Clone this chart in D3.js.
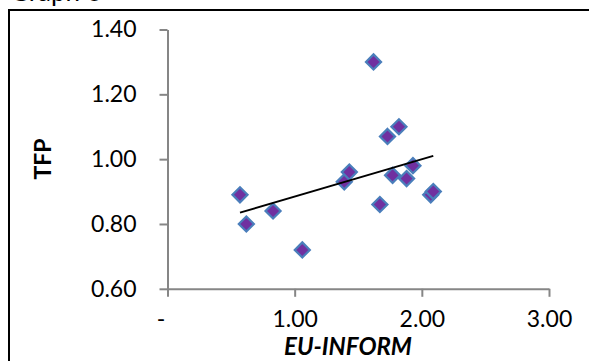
<!DOCTYPE html>
<html>
<head>
<meta charset="utf-8">
<script src="https://cdn.jsdelivr.net/npm/d3@7"></script>
<style>
  html, body { margin: 0; padding: 0; background: #fff; }
  svg { display: block; }
</style>
</head>
<body>
<svg id="chart" width="589" height="361"></svg>
<script>
// ---- data ----
const euInform = [0.57, 0.62, 0.83, 1.06, 1.39, 1.43, 1.62, 1.67, 1.73, 1.77, 1.82, 1.88, 1.93, 2.07, 2.09];
const tfp      = [0.89, 0.80, 0.84, 0.72, 0.93, 0.96, 1.30, 0.86, 1.07, 0.95, 1.10, 0.94, 0.98, 0.89, 0.90];
const xTicks = [0, 1, 2, 3];
const yTicks = [0.6, 0.8, 1.0, 1.2, 1.4];
const xTitle = "EU-INFORM";
const yTitle = "TFP";
const titleText = "Graph 6";

const svg = d3.select("#chart");
const W = 589, H = 361;
const FONT = "Lato, 'Open Sans', sans-serif";
const axisColor = "#868686";

// frame
svg.append("rect").attr("x", 9).attr("y", 10).attr("width", W).attr("height", H)
  .attr("fill", "#fff").attr("stroke", "#000").attr("stroke-width", 2);

// cut-off title at top (as in the reference)
svg.append("text").attr("x", 10).attr("y", 0.5).attr("font-family", FONT)
  .attr("font-size", 26).attr("fill", "#000").text(titleText);

const x = d3.scaleLinear().domain([0, 3]).range([167.5, 549]);
const y = d3.scaleLinear().domain([0.6, 1.4]).range([288.8, 29.5]);

// axes
const xAxis = d3.axisBottom(x).tickValues(xTicks).tickSize(8).tickSizeOuter(0)
  .tickFormat(d => d === 0 ? "-" : d3.format(".2f")(d)).tickPadding(14);
const yAxis = d3.axisLeft(y).tickValues(yTicks).tickSize(8).tickSizeOuter(0)
  .tickFormat(d3.format(".2f")).tickPadding(23);

const gx = svg.append("g").attr("transform", `translate(0,${y(0.6)})`).call(xAxis);
const gy = svg.append("g").attr("transform", `translate(${x(0)},0)`).call(yAxis);

[gx, gy].forEach(g => {
  g.select(".domain").attr("stroke", axisColor).attr("stroke-width", 2);
  g.selectAll(".tick line").attr("stroke", axisColor).attr("stroke-width", 2);
  g.selectAll(".tick text").attr("font-family", FONT).attr("font-size", 23).attr("fill", "#000");
});
gx.selectAll(".tick text").filter(d => d === 0).attr("dx", -7);

// trendline (least squares)
const n = euInform.length;
const mx = d3.mean(euInform), my = d3.mean(tfp);
let sxy = 0, sxx = 0;
for (let i = 0; i < n; i++) { sxy += (euInform[i]-mx)*(tfp[i]-my); sxx += (euInform[i]-mx)**2; }
const slope = sxy / sxx, icpt = my - slope * mx;
const [x0, x1] = d3.extent(euInform);

// points
const pts = euInform.map((v, i) => ({ x: v, y: tfp[i] }));
const sym = d3.symbol().type(d3.symbolDiamond2).size(145);
svg.append("g").selectAll("path").data(pts).join("path")
  .attr("transform", d => `translate(${x(d.x)},${y(d.y)})`)
  .attr("d", sym)
  .attr("fill", "#7030A0").attr("stroke", "#4A7EBB").attr("stroke-width", 2.2);

svg.append("line")
  .attr("x1", x(x0)).attr("y1", y(icpt + slope * x0))
  .attr("x2", x(x1)).attr("y2", y(icpt + slope * x1))
  .attr("stroke", "#000").attr("stroke-width", 2);

// titles
svg.append("text").attr("x", 348).attr("y", 355).attr("text-anchor", "middle")
  .attr("font-family", FONT).attr("font-size", 24).attr("font-weight", "bold")
  .attr("font-style", "italic").attr("fill", "#000").text(xTitle);

svg.append("text").attr("transform", "translate(51,159) rotate(-90)")
  .attr("text-anchor", "middle").attr("font-family", FONT).attr("font-size", 23)
  .attr("font-weight", "bold").attr("fill", "#000").text(yTitle);
</script>
</body>
</html>
